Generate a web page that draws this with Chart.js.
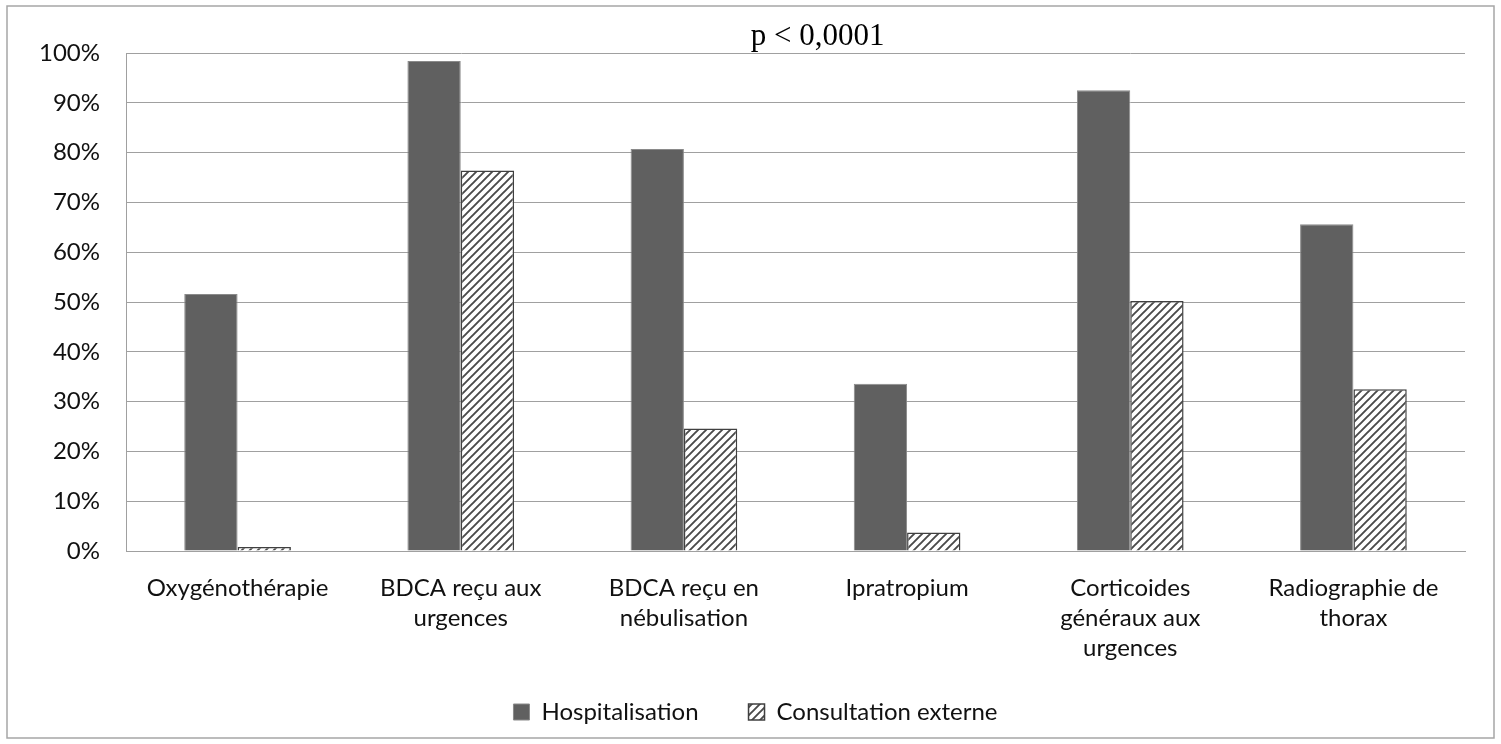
<!DOCTYPE html>
<html>
<head>
<meta charset="utf-8">
<script src="https://cdn.jsdelivr.net/npm/chart.js@4.4.1/dist/chart.umd.min.js"></script>
<style>
  html, body { margin: 0; padding: 0; background: #ffffff; }
  #wrap { width: 1501px; height: 744px; position: relative; }
</style>
</head>
<body>
<div id="wrap"><canvas id="chart" width="1501" height="744"></canvas></div>
<script>
// Categories (multi-line labels)
const categories = [
  ["Oxygénothérapie"],
  ["BDCA reçu aux", "urgences"],
  ["BDCA reçu en", "nébulisation"],
  ["Ipratropium"],
  ["Corticoides", "généraux aux", "urgences"],
  ["Radiographie de", "thorax"]
];

// Percentages per group
const hospitalisation     = [51.6, 98.4, 80.7, 33.6, 92.5, 65.6];
const consultationExterne = [0.8, 76.4, 24.6, 3.7, 50.2, 32.5];

const seriesNames = ["Hospitalisation", "Consultation externe"];
const yTicks = [0, 10, 20, 30, 40, 50, 60, 70, 80, 90, 100];
const significance = "p < 0,0001";

const FONT = "Lato, 'Open Sans', sans-serif";
const GRID = "#a0a0a0";

// Upward diagonal hatch used for the second series
function makeHatch() {
  const s = 8;
  const c = document.createElement("canvas");
  c.width = s; c.height = s;
  const g = c.getContext("2d");
  g.fillStyle = "#ffffff";
  g.fillRect(0, 0, s, s);
  g.strokeStyle = "#4a4a4a";
  g.lineWidth = 1.9;
  g.beginPath();
  g.moveTo(-2, s + 2); g.lineTo(s + 2, -2);
  g.moveTo(-2, 2);     g.lineTo(2, -2);
  g.moveTo(s - 2, s + 2); g.lineTo(s + 2, s - 2);
  g.stroke();
  return g.createPattern(c, "repeat");
}

const ctx = document.getElementById("chart").getContext("2d");
const hatch = makeHatch();

// White background and thin frame around the whole chart
const framePlugin = {
  id: "frame",
  beforeDraw(chart) {
    const c = chart.ctx;
    c.save();
    c.fillStyle = "#ffffff";
    c.fillRect(0, 0, chart.width, chart.height);
    c.strokeStyle = "#a6a6a6";
    c.lineWidth = 1.5;
    c.strokeRect(7, 6, chart.width - 14, chart.height - 12);
    c.restore();
  }
};

// Legend centred under the plot; let the category labels use the full
// space down to the legend so three-line labels are not cut off
const layoutTweaks = {
  id: "layoutTweaks",
  afterLayout(chart) {
    const lg = chart.legend;
    if (lg) {
      lg.left += 23;
      lg.right += 23;
    }
    const x = chart.scales.x;
    if (x) x.bottom = chart.height;
  }
};

// Significance note above the plot
const notePlugin = {
  id: "note",
  afterDraw(chart) {
    const c = chart.ctx;
    const a = chart.chartArea;
    c.save();
    c.fillStyle = "#000000";
    c.font = "31px 'Liberation Serif', 'Times New Roman', serif";
    c.textAlign = "center";
    c.textBaseline = "alphabetic";
    c.fillText(significance, a.left + (a.right - a.left) * 0.5165, a.top - 8);
    c.restore();
  }
};

new Chart(ctx, {
  type: "bar",
  data: {
    labels: categories,
    datasets: [
      {
        label: seriesNames[0],
        data: hospitalisation,
        backgroundColor: "#606060",
        borderColor: "#8a8a8a",
        borderWidth: 1,
        categoryPercentage: 0.478,
        barPercentage: 1.0
      },
      {
        label: seriesNames[1],
        data: consultationExterne,
        backgroundColor: hatch,
        borderColor: "#404040",
        borderWidth: 1.5,
        categoryPercentage: 0.478,
        barPercentage: 1.0
      }
    ]
  },
  options: {
    responsive: false,
    animation: false,
    devicePixelRatio: 1,
    layout: { padding: { left: 0, right: 36, top: 53, bottom: 10 } },
    plugins: {
      title: { display: false },
      tooltip: { enabled: false },
      legend: {
        position: "bottom",
        labels: {
          color: "#111111",
          font: { family: FONT, size: 24 },
          boxWidth: 16,
          boxHeight: 16,
          padding: 50
        }
      }
    },
    scales: {
      x: {
        grid: { display: false, drawTicks: false },
        border: { display: true, color: GRID, width: 1 },
        ticks: {
          color: "#111111",
          font: { family: FONT, size: 24, lineHeight: 1.25 },
          padding: 22,
          maxRotation: 0,
          autoSkip: false
        },
        afterFit(axis) { axis.height = 99; }
      },
      y: {
        min: 0,
        max: 100,
        afterBuildTicks(axis) { axis.ticks = yTicks.map(v => ({ value: v })); },
        grid: { color: GRID, lineWidth: 1, drawTicks: false },
        border: { display: true, color: GRID, width: 1 },
        ticks: {
          color: "#111111",
          font: { family: FONT, size: 24 },
          padding: 26,
          callback: v => v + "%"
        },
        afterFit(axis) { axis.width = 126; }
      }
    }
  },
  plugins: [framePlugin, layoutTweaks, notePlugin]
});
</script>
</body>
</html>
